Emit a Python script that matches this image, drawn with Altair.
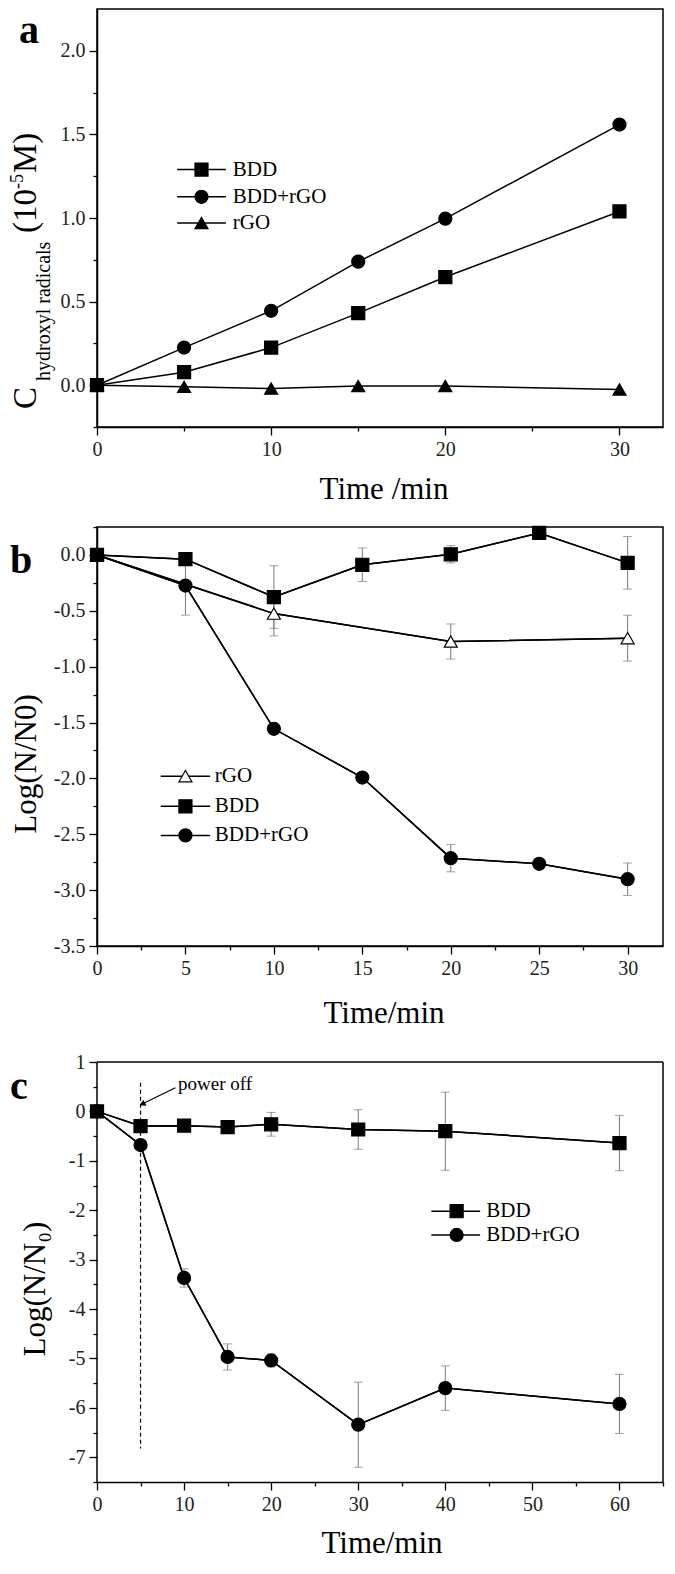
import altair as alt
import pandas as pd

FONT = "Liberation Serif"

# ---------------- data ----------------
# panel a: hydroxyl radical concentration (10^-5 M)
a_time = [0, 5, 10, 15, 20, 30]
a_bdd = [0.0, 0.078, 0.225, 0.431, 0.647, 1.039]
a_bdd_rgo = [0.0, 0.225, 0.445, 0.739, 0.996, 1.559]
a_rgo = [0.0, -0.010, -0.020, -0.005, -0.005, -0.025]

# panel b: Log(N/N0)
b_time = [0, 5, 10, 15, 20, 25, 30]
b_bdd = [0.0, -0.038, -0.377, -0.088, 0.006, 0.197, -0.071]
b_bdd_err = [0.0, 0.0, 0.28, 0.15, 0.077, 0.0, 0.235]
b_bdd_rgo = [0.0, -0.274, -1.556, -1.992, -2.714, -2.764, -2.902]
b_bdd_rgo_err = [0.0, 0.265, 0.0, 0.0, 0.122, 0.0, 0.145]
b_rgo_time = [0, 10, 20, 30]
b_rgo = [0.0, -0.525, -0.775, -0.745]
b_rgo_err = [0.0, 0.20, 0.157, 0.205]

# panel c: Log(N/N0), power off after 5 min
c_time = [0, 5, 10, 15, 20, 30, 40, 60]
c_bdd = [0.0, -0.296, -0.288, -0.317, -0.26, -0.366, -0.40, -0.64]
c_bdd_err = [0.0, 0.0, 0.0, 0.0, 0.24, 0.40, 0.79, 0.56]
c_bdd_rgo = [0.0, -0.68, -3.37, -4.97, -5.04, -6.34, -5.60, -5.92]
c_bdd_rgo_err = [0.0, 0.0, 0.185, 0.265, 0.13, 0.86, 0.45, 0.60]
c_power_off = 5

# axis ranges and tick positions
a_xdom, a_ydom = [0, 32.5], [-0.25, 2.25]
b_xdom, b_ydom = [0, 32], [-3.5, 0.25]
c_xdom, c_ydom = [0, 65], [-7.5, 1]
a_xticks = [0, 5, 10, 15, 20, 25, 30]
a_yticks = [-0.25, 0, 0.25, 0.5, 0.75, 1.0, 1.25, 1.5, 1.75, 2.0]
b_xticks = [0, 2.5, 5, 7.5, 10, 12.5, 15, 17.5, 20, 22.5, 25, 27.5, 30]
b_yticks = [-3.5, -3.25, -3.0, -2.75, -2.5, -2.25, -2.0, -1.75, -1.5, -1.25,
            -1.0, -0.75, -0.5, -0.25, 0.0, 0.25]
c_xticks = [0, 5, 10, 15, 20, 25, 30, 35, 40, 45, 50, 55, 60, 65]
c_yticks = [-7.5, -7, -6.5, -6, -5.5, -5, -4.5, -4, -3.5, -3, -2.5, -2, -1.5,
            -1, -0.5, 0, 0.5, 1]

SHAPE = {"BDD": "square", "BDD+rGO": "circle", "rGO": "triangle-up"}

# layout (pixels)
W = 566
HA, HB, HC = 418, 419, 420
SPACING = 100
C_EXTRA = 16   # blank band above panel c's frame (extra gap b -> c)


def long_df(items):
    rows = []
    for name, ts, vs, es in items:
        for i, (t, v) in enumerate(zip(ts, vs)):
            e = es[i] if es else 0.0
            rows.append({"series": name, "t": t, "v": v,
                         "lo": v - e, "hi": v + e, "err": e})
    return pd.DataFrame(rows)


def axis(values, step, fmt, domain=True):
    test = f"abs(datum.value/{step} - round(datum.value/{step})) < 1e-6"
    lab = (f"({test}) ? (datum.value < 0 ? '-' : '') + "
           f"format(abs(datum.value), '{fmt}') : ''")
    return alt.Axis(values=values, labelExpr=lab, domain=domain,
                    tickSize={"condition": {"test": test, "value": 8}, "value": 4})


DUMMY = pd.DataFrame({"k": [0]})


def txt(s, x, y, size, angle=0, align="left", baseline="alphabetic", weight="normal"):
    kw = dict(text=s, font=FONT, fontSize=size, align=align, baseline=baseline,
              color="black", fontWeight=weight)
    if angle:
        kw["angle"] = angle
    return alt.Chart(DUMMY).mark_text(**kw).encode(x=alt.value(x), y=alt.value(y))


def panel(df, order, fills, xdom, ydom, xt, xstep, xfmt, yt, ystep, yfmt,
          w, h, leg, extra=None, ydomain_line=True):
    xs = alt.Scale(domain=xdom, nice=False, zero=False)
    ys = alt.Scale(domain=ydom, nice=False, zero=False)
    xa = axis(xt, xstep, xfmt)
    ya = axis(yt, ystep, yfmt, domain=ydomain_line)

    def X(f):
        return alt.X(f, type="quantitative", scale=xs, axis=xa, title=None)

    def Y(f):
        return alt.Y(f, type="quantitative", scale=ys, axis=ya, title=None)

    shp = alt.Shape("series:N", scale=alt.Scale(domain=order, range=[SHAPE[s] for s in order]), legend=None)
    fil = alt.Fill("series:N", scale=alt.Scale(domain=order, range=fills), legend=None)

    base = alt.Chart(df)
    layers = [base.mark_line(color="black", strokeWidth=1.5).encode(x=X("t"), y=Y("v"), detail="series:N")]
    err = df[df["err"] > 0]
    if len(err):
        eb = alt.Chart(err)
        layers.append(eb.mark_rule(color="#7a7a7a", strokeWidth=1).encode(x=X("t"), y=Y("lo"), y2="hi"))
        layers.append(eb.mark_tick(orient="horizontal", color="#7a7a7a", size=9, thickness=1).encode(x=X("t"), y=Y("lo")))
        layers.append(eb.mark_tick(orient="horizontal", color="#7a7a7a", size=9, thickness=1).encode(x=X("t"), y=Y("hi")))
        # redraw lines over the error bars
        layers.append(base.mark_line(color="black", strokeWidth=1.5).encode(x=X("t"), y=Y("v"), detail="series:N"))
    layers.append(base.mark_point(filled=True, stroke="black", strokeWidth=1.2, opacity=1, size=170)
                  .encode(x=X("t"), y=Y("v"), shape=shp, fill=fil))
    # legend drawn in data space
    ldf = pd.DataFrame({"series": order, "x1": leg["x1"], "x2": leg["x2"],
                        "t": leg["xm"], "xt": leg["xt"], "v": leg["y"]})
    lg = alt.Chart(ldf)
    layers.append(lg.mark_rule(color="black", strokeWidth=1.5).encode(x=X("x1"), x2="x2", y=Y("v")))
    layers.append(lg.mark_point(filled=True, stroke="black", strokeWidth=1.2, opacity=1, size=170)
                  .encode(x=X("t"), y=Y("v"), shape=shp, fill=fil))
    layers.append(lg.mark_text(font=FONT, fontSize=21, align="left", baseline="middle", color="black")
                  .encode(x=X("xt"), y=Y("v"), text="series:N"))
    if extra:
        layers += extra(X, Y)
    return alt.layer(*layers).properties(width=w, height=h)


# ---------------- panel a ----------------
dfa = long_df([("BDD", a_time, a_bdd, None), ("BDD+rGO", a_time, a_bdd_rgo, None),
               ("rGO", a_time, a_rgo, None)])


def extra_a(X, Y):
    return [
        txt("a", -78, 34, 40, weight="bold"),
        txt("C", -61, 400, 33, angle=270),
        txt("hydroxyl radicals", -47, 372, 20, angle=270),
        txt("(10", -61, 224, 33, angle=270),
        txt("-5", -74, 180, 18, angle=270),
        txt("M)", -61, 164, 33, angle=270),
        txt("Time /min", W / 2 + 4, HA + 72, 31, align="center"),
    ]


pa = panel(dfa, ["BDD", "BDD+rGO", "rGO"], ["black", "black", "black"],
           a_xdom, a_ydom, a_xticks, 10, "d", a_yticks, 0.5, ".1f", W, HA,
           {"x1": [4.6] * 3, "x2": [7.4] * 3, "xm": [6.0] * 3, "xt": [7.8] * 3,
            "y": [1.29, 1.127, 0.97]}, extra=extra_a)

# ---------------- panel b ----------------
dfb = long_df([("rGO", b_rgo_time, b_rgo, b_rgo_err), ("BDD", b_time, b_bdd, b_bdd_err),
               ("BDD+rGO", b_time, b_bdd_rgo, b_bdd_rgo_err)])


def extra_b(X, Y):
    return [
        txt("b", -87, 46, 40, weight="bold"),
        txt("Log(N/N0)", -61, 237, 31, angle=270, align="center"),
        txt("Time/min", W / 2 + 4, HB + 77, 31, align="center"),
    ]


pb = panel(dfb, ["rGO", "BDD", "BDD+rGO"], ["white", "black", "black"],
           b_xdom, b_ydom, b_xticks, 5, "d", b_yticks, 0.5, ".1f", W, HB,
           {"x1": [3.6] * 3, "x2": [6.4] * 3, "xm": [5.0] * 3, "xt": [6.66] * 3,
            "y": [-1.98, -2.25, -2.51]}, extra=extra_b)

# ---------------- panel c ----------------
c_ytop = c_ydom[1] + C_EXTRA * (c_ydom[1] - c_ydom[0]) / HC
dfc = long_df([("BDD", c_time, c_bdd, c_bdd_err), ("BDD+rGO", c_time, c_bdd_rgo, c_bdd_rgo_err)])
c_frame = pd.DataFrame({"x": [c_xdom[0], c_xdom[1], c_xdom[0]],
                        "x2": [c_xdom[0], c_xdom[1], c_xdom[1]],
                        "y": [c_ydom[0], c_ydom[0], c_ydom[1]],
                        "y2": [c_ydom[1], c_ydom[1], c_ydom[1]]})
c_mark = pd.DataFrame({"t": [c_power_off], "y": [0.58], "y2": [-6.82]})
c_arrow = pd.DataFrame({"x": [9.0], "y": [0.48], "x2": [5.3], "y2": [0.16],
                        "hx": [5.2], "hy": [0.15], "tx": [9.3], "ty": [0.44]})


def extra_c(X, Y):
    return [
        alt.Chart(c_frame).mark_rule(color="black", strokeWidth=1.5)
        .encode(x=X("x"), x2="x2", y=Y("y"), y2="y2"),
        alt.Chart(c_mark).mark_rule(color="black", strokeWidth=1.2, strokeDash=[4, 3])
        .encode(x=X("t"), y=Y("y"), y2="y2"),
        alt.Chart(c_arrow).mark_rule(color="black", strokeWidth=1.2)
        .encode(x=X("x"), y=Y("y"), x2="x2", y2="y2"),
        alt.Chart(c_arrow).mark_point(shape="triangle-up", angle=244, filled=True, color="black", size=45, opacity=1)
        .encode(x=X("hx"), y=Y("hy")),
        alt.Chart(c_arrow).mark_text(text="power off", font=FONT, fontSize=19, align="left",
                                     baseline="alphabetic", color="black")
        .encode(x=X("tx"), y=Y("ty")),
        txt("c", -87, 37 + C_EXTRA, 40, weight="bold"),
        txt("Log(N/N₀)", -52, 227 + C_EXTRA, 31, angle=270, align="center"),
        txt("Time/min", W / 2 + 2, HC + C_EXTRA + 71, 31, align="center"),
    ]


pc = panel(dfc, ["BDD", "BDD+rGO"], ["black", "black"],
           c_xdom, [c_ydom[0], c_ytop], c_xticks, 10, "d", c_yticks, 1, "d",
           W, HC + C_EXTRA,
           {"x1": [38.4] * 2, "x2": [44.0] * 2, "xm": [41.3] * 2, "xt": [44.7] * 2,
            "y": [-2.02, -2.50]}, extra=extra_c, ydomain_line=False)
pc = pc.properties(view=alt.ViewBackground(stroke="transparent"))

chart = (
    alt.vconcat(pa, pb, pc, spacing=SPACING, bounds="flush")
    .resolve_scale(shape="independent", fill="independent")
    .properties(padding=0)
    .configure_view(stroke="black", strokeWidth=1.5)
    .configure_axis(grid=False, labelFont=FONT, labelFontSize=20, labelColor="#222",
                    tickColor="black", tickWidth=1.3, domainColor="black", domainWidth=1.5,
                    labelPadding=4, labelOverlap=False, labelFlush=False, titleFont=FONT)
)

chart.save("out.html", embed_options={"renderer": "svg", "actions": False})
